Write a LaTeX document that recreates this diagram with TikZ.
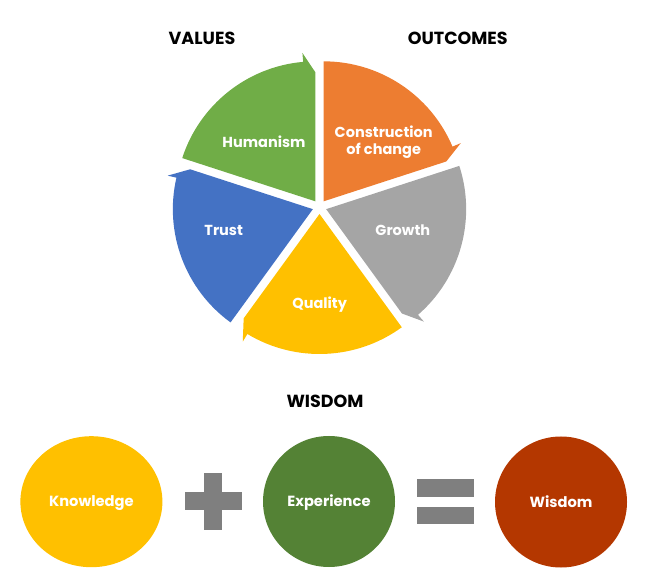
\documentclass[tikz,border=0pt]{standalone}
\usepackage{fontspec}
\setmainfont{Poppins}
\usetikzlibrary{shapes.geometric}

\definecolor{segGreen}{HTML}{70AD47}
\definecolor{segOrange}{HTML}{ED7D31}
\definecolor{segGray}{HTML}{A5A5A5}
\definecolor{segYellow}{HTML}{FFC000}
\definecolor{segBlue}{HTML}{4472C4}
\definecolor{expGreen}{HTML}{548235}
\definecolor{wisRed}{HTML}{B43700}
\definecolor{signGray}{HTML}{7F7F7F}

\begin{document}
\begin{tikzpicture}[x=1pt,y=1pt,
  title/.style={font=\fontsize{17.5}{20}\selectfont\bfseries, anchor=base},
  seglabel/.style={text=white, font=\fontsize{14.5}{16.7}\selectfont\bfseries, align=center},
  blob/.style={ellipse, inner sep=0pt, minimum width=132pt, minimum height=131pt,
    text=white, font=\fontsize{14.7}{17}\selectfont\bfseries, text height=10.3pt, text depth=0pt}]
\useasboundingbox (0,0) rectangle (650,586);

% titles
\node[title] (values) at (202,541) {VALUES};
\node[title] (outcomes) at (457.8,541) {OUTCOMES};
\node[title] (wisdomtitle) at (325,178) {WISDOM};

% cycle
\begin{scope}[shift={(319.5,379)}]
\fill[segGreen, shift={(126:7)}] (0,0) -- (162:140) arc[start angle=162, end angle=95, radius=140] -- (95:149) -- (90:129) -- cycle;
\fill[segOrange, shift={(54:7)}] (0,0) -- (90:140) arc[start angle=90, end angle=23, radius=140] -- (23:149) -- (18:129) -- cycle;
\fill[segGray, shift={(-18:7)}] (0,0) -- (18:140) arc[start angle=18, end angle=-49, radius=140] -- (-49:149) -- (-54:129) -- cycle;
\fill[segYellow, shift={(-90:7)}] (0,0) -- (-54:140) arc[start angle=-54, end angle=-121, radius=140] -- (-121:149) -- (-126:129) -- cycle;
\fill[segBlue, shift={(198:7)}] (0,0) -- (234:140) arc[start angle=234, end angle=167, radius=140] -- (167:149) -- (162:129) -- cycle;
\end{scope}

\node[seglabel, anchor=base] (humanism) at (264,438.7) {Humanism};
\node[seglabel] (construction) at (383.7,443.5) {Construction\\of change};
\node[seglabel, anchor=base] (growth) at (402.8,350.3) {Growth};
\node[seglabel, anchor=base] (quality) at (319.7,277.5) {Quality};
\node[seglabel, anchor=base] (trust) at (223.7,350.3) {Trust};

% knowledge + experience = wisdom
\node[blob, fill=segYellow, minimum width=142pt] (knowledge) at (91.4,84.3) {Knowledge};
\node[blob, fill=expGreen] (experience) at (329,84.5) {Experience};
\node[blob, fill=wisRed] (wisdom) at (561,84) {Wisdom};

\fill[signGray] (184.5,75.5) rectangle (241.5,93.5);
\fill[signGray] (204,56) rectangle (222,113);
\fill[signGray] (416.7,89) rectangle (473.8,107);
\fill[signGray] (416.7,61.7) rectangle (473.8,79.3);
\end{tikzpicture}
\end{document}
